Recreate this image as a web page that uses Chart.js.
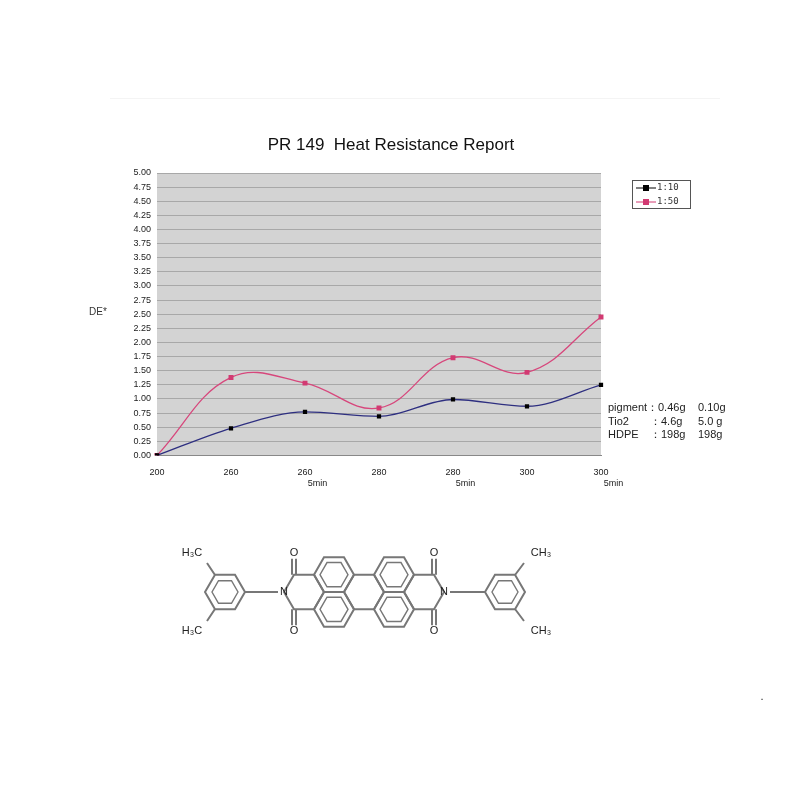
<!DOCTYPE html>
<html><head><meta charset="utf-8">
<script src="https://cdn.jsdelivr.net/npm/chart.js@4"></script>
<style>html,body{margin:0;padding:0;background:#fff}#w{width:800px;height:800px}</style>
</head><body><div id="w"><canvas id="c" width="800" height="800"></canvas></div>
<script>
const titleText = 'PR 149  Heat Resistance Report';
const categories = [["200"],["260"],["260","          5min"],["280"],["280","          5min"],["300"],["300","          5min"]];
const series110 = [0, 0.48, 0.77, 0.69, 0.99, 0.87, 1.25];
const series150 = [0, 1.38, 1.28, 0.84, 1.73, 1.47, 2.45];
const yTicks = [0,0.25,0.5,0.75,1,1.25,1.5,1.75,2,2.25,2.5,2.75,3,3.25,3.5,3.75,4,4.25,4.5,4.75,5];

const bgPlugin = {
  id:'bg',
  beforeDraw(ch){
    const {ctx, chartArea:a} = ch;
    ctx.save();
    ctx.fillStyle = '#d3d3d3';
    ctx.fillRect(a.left, a.top, a.right-a.left, a.bottom-a.top);
    ctx.strokeStyle = '#f4f4f4'; ctx.lineWidth = 1;
    ctx.beginPath(); ctx.moveTo(110,98.5); ctx.lineTo(720,98.5); ctx.stroke();
    ctx.restore();
  },
  afterDraw(ch){
    const ctx = ch.ctx;
    ctx.save();
    ctx.fillStyle='#111'; ctx.font='17px Arial'; ctx.textAlign='center'; ctx.textBaseline='middle';
    ctx.fillText(titleText, 391, 145);
    ctx.textAlign='left';
    ctx.fillStyle='#333'; ctx.font='10px Arial';
    ctx.fillText('DE*', 89, 312);
    ctx.strokeStyle='#555'; ctx.lineWidth=1;
    ctx.strokeRect(632.5,180.5,58,28);
    [['#000','1:10',188],['#d23a72','1:50',202]].forEach(([c,t,y])=>{
      ctx.strokeStyle=c; ctx.beginPath(); ctx.moveTo(636,y); ctx.lineTo(656,y); ctx.stroke();
      ctx.fillStyle=c; ctx.fillRect(643,y-3,6,6);
      ctx.fillStyle='#333'; ctx.font='9px "DejaVu Sans Mono"'; ctx.fillText(t,657,y);
    });
    ctx.fillStyle='#222'; ctx.font='11px Arial';
    const rows=[['pigment：','0.46g','0.10g',408],['Tio2','：4.6g','5.0 g',422],['HDPE','：198g','198g',435]];
    rows.forEach(r=>{ctx.fillText(r[0],608,r[3]); ctx.fillText(r[1],r[0]==='pigment：'?658:650,r[3]); ctx.fillText(r[2],698,r[3]);});
    ctx.strokeStyle='#777'; ctx.lineWidth=2;
    const s=20, h=s*Math.sqrt(3);
    function hexF(cx,cy,r){ctx.beginPath();for(let i=0;i<6;i++){const an=Math.PI/3*i;const x=cx+r*Math.cos(an),y=cy+r*Math.sin(an);i?ctx.lineTo(x,y):ctx.moveTo(x,y);}ctx.closePath();ctx.stroke();}
    const y0=592, x1=334;
    hexF(x1,y0-h/2,s);hexF(x1,y0+h/2,s);
    hexF(x1+3*s,y0-h/2,s);hexF(x1+3*s,y0+h/2,s);
    hexF(x1+1.5*s,y0,s);
    hexF(x1-1.5*s,y0,s);hexF(x1+4.5*s,y0,s);
    ctx.lineWidth=1.4;
    [[x1,y0-h/2],[x1,y0+h/2],[x1+3*s,y0-h/2],[x1+3*s,y0+h/2]].forEach(p=>hexF(p[0],p[1],s*0.7));
    ctx.lineWidth=2;
    const nL=x1-1.5*s-s, nR=x1+4.5*s+s;
    hexF(225,y0,20); hexF(505,y0,20);
    ctx.lineWidth=1.4; hexF(225,y0,13); hexF(505,y0,13); ctx.lineWidth=2;
    ctx.beginPath();
    ctx.moveTo(245,y0);ctx.lineTo(nL-6,y0);
    ctx.moveTo(nR+6,y0);ctx.lineTo(485,y0);
    [[x1-1.5*s-s/2,y0-h/2,-1],[x1-1.5*s-s/2,y0+h/2,1],[x1+4.5*s+s/2,y0-h/2,-1],[x1+4.5*s+s/2,y0+h/2,1]].forEach(([x,y,d])=>{
      ctx.moveTo(x-2,y);ctx.lineTo(x-2,y+d*16);ctx.moveTo(x+2,y);ctx.lineTo(x+2,y+d*16);
    });
    ctx.moveTo(225-10,y0-17);ctx.lineTo(207,y0-29);
    ctx.moveTo(225-10,y0+17);ctx.lineTo(207,y0+29);
    ctx.moveTo(505+10,y0-17);ctx.lineTo(524,y0-29);
    ctx.moveTo(505+10,y0+17);ctx.lineTo(524,y0+29);
    ctx.stroke();
    ctx.fillStyle='#222'; ctx.font='11px Arial'; ctx.textAlign='center';
    ctx.fillText('N',nL,y0); ctx.fillText('N',nR,y0);
    ctx.fillText('O',x1-1.5*s-s/2,y0-h/2-22); ctx.fillText('O',x1-1.5*s-s/2,y0+h/2+22);
    ctx.fillText('O',x1+4.5*s+s/2,y0-h/2-22); ctx.fillText('O',x1+4.5*s+s/2,y0+h/2+22);
    ctx.fillText('H₃C',192,553); ctx.fillText('H₃C',192,631);
    ctx.fillText('CH₃',541,553); ctx.fillText('CH₃',541,631);
    ctx.fillText('.',762,697);
    ctx.restore();
  }
};

new Chart(document.getElementById('c'),{
  type:'line',
  data:{labels:categories,datasets:[
    {label:'1:10',data:series110,borderColor:'#2e2f80',backgroundColor:'#000',borderWidth:1.3,pointStyle:'rect',pointRadius:3,pointBackgroundColor:'#000',pointBorderWidth:0,cubicInterpolationMode:'monotone'},
    {label:'1:50',data:series150,borderColor:'#d7477c',backgroundColor:'#d23a72',borderWidth:1.3,pointStyle:'rect',pointRadius:3.5,pointBackgroundColor:'#d23a72',pointBorderWidth:0,tension:0.4}
  ]},
  options:{
    responsive:false,animation:false,
    layout:{padding:{left:0,right:199,top:173,bottom:307}},
    plugins:{legend:{display:false},tooltip:{enabled:false},title:{display:false}},
    scales:{
      x:{offset:false,grid:{display:false},border:{color:'#888'},
        ticks:{color:'#222',font:{family:'Arial',size:9},maxRotation:0,padding:4}},
      y:{min:0,max:5,afterBuildTicks(ax){ax.ticks=yTicks.map(v=>({value:v}));},
        grid:{color:'#a8a8a8',drawTicks:false},border:{display:false},
        ticks:{color:'#222',font:{family:'Arial',size:9},padding:6,autoSkip:false,callback:v=>v.toFixed(2)},
        afterFit(ax){ax.width=157;}}
    }
  },
  plugins:[bgPlugin]
});
</script></body></html>
